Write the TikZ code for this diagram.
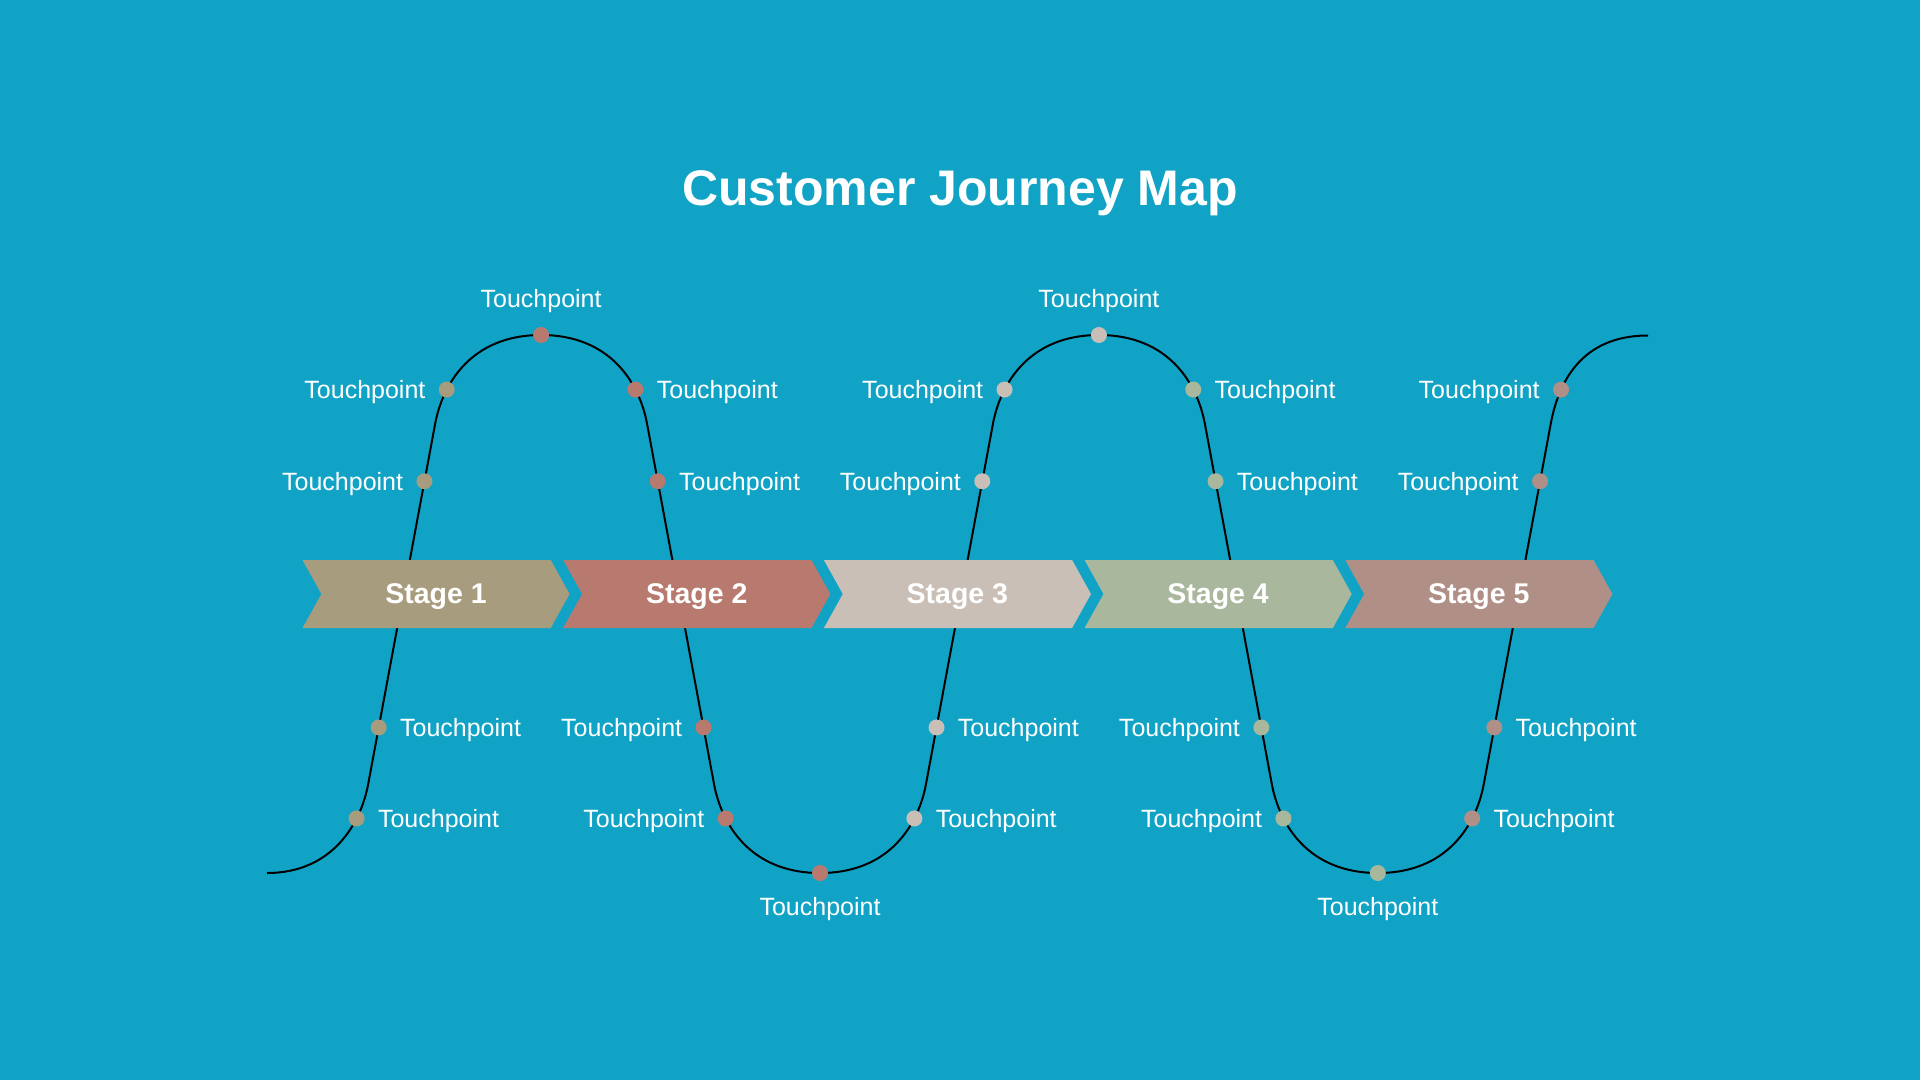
\documentclass[tikz,border=0pt]{standalone}
\usepackage{fontspec}
\setmainfont{Liberation Sans}
\usetikzlibrary{positioning}
\definecolor{bgc}{HTML}{11A3C6}
\definecolor{sa}{HTML}{A89C7E}
\definecolor{sb}{HTML}{B8796F}
\definecolor{sc}{HTML}{C9BFB6}
\definecolor{sd}{HTML}{A9B89C}
\definecolor{se}{HTML}{B09086}
\tikzset{
  wave/.style={draw=black, line width=2pt},
  tpdot/.style={circle, minimum size=16pt, inner sep=0pt, draw=none},
  lbl/.style={text=white, inner sep=0pt, text depth=0pt, font=\fontsize{25}{30}\selectfont},
  stagelbl/.style={text=white, inner sep=0pt, font=\bfseries\fontsize{28.5}{34}\selectfont},
  titlelbl/.style={text=white, inner sep=0pt, font=\bfseries\fontsize{50}{60}\selectfont}
}
\begin{document}
\begin{tikzpicture}[x=1pt, y=-1pt]
\useasboundingbox (0,0) rectangle (1920,1080);
\fill[bgc] (0,0) rectangle (1920,1080);

\node[titlelbl, anchor=base] (title) at (960,205) {Customer Journey Map};

% wave
\draw[wave]
 (267,873) .. controls (332,873) and (360.8,824) .. (368.2,784) coordinate[pos=0.72] (d1)
 -- (435.1,424) coordinate[pos=0.157] (d2) coordinate[pos=0.841] (d3)
 .. controls (442.5,384) and (471.1,335) .. (541.1,335) coordinate[pos=0.28] (d4) coordinate[pos=1] (d5)
 .. controls (611.1,335) and (639.7,384) .. (647.1,424) coordinate[pos=0.72] (d6)
 -- (714,784) coordinate[pos=0.159] (d7) coordinate[pos=0.843] (d8)
 .. controls (721.4,824) and (750,873) .. (820,873) coordinate[pos=0.28] (d9) coordinate[pos=1] (d10)
 .. controls (890,873) and (918.6,824) .. (926,784) coordinate[pos=0.72] (d11)
 -- (992.9,424) coordinate[pos=0.157] (d12) coordinate[pos=0.841] (d13)
 .. controls (1000.3,384) and (1028.9,335) .. (1098.9,335) coordinate[pos=0.28] (d14) coordinate[pos=1] (d15)
 .. controls (1168.9,335) and (1197.5,384) .. (1204.9,424) coordinate[pos=0.72] (d16)
 -- (1271.8,784) coordinate[pos=0.159] (d17) coordinate[pos=0.843] (d18)
 .. controls (1279.2,824) and (1307.8,873) .. (1377.8,873) coordinate[pos=0.28] (d19) coordinate[pos=1] (d20)
 .. controls (1447.8,873) and (1476.4,824) .. (1483.8,784) coordinate[pos=0.72] (d21)
 -- (1550.7,424) coordinate[pos=0.157] (d22) coordinate[pos=0.841] (d23)
 .. controls (1558.1,384) and (1580,335.5) .. (1648,335.5) coordinate[pos=0.28] (d24);

% stages
\foreach \x/\c/\lab [count=\i] in {302.5/sa/Stage 1, 563.2/sb/Stage 2, 823.9/sc/Stage 3, 1084.6/sd/Stage 4, 1345.3/se/Stage 5}{
  \fill[\c] (\x,560) -- ++(248.2,0) -- ++(18.9,34) -- ++(-18.9,34) -- ++(-248.2,0) -- ++(18.9,-34) -- cycle;
  \node[stagelbl, anchor=base] (stage\i) at (\x+133.5,603) {\lab};
}

% dots
\foreach \n/\c in {d1/sa,d2/sa,d3/sa,d4/sa,d5/sb,d6/sb,d7/sb,d8/sb,d9/sb,d10/sb,d11/sc,d12/sc,d13/sc,d14/sc,d15/sc,d16/sd,d17/sd,d18/sd,d19/sd,d20/sd,d21/se,d22/se,d23/se,d24/se}{
  \node[tpdot, fill=\c] (p\n) at (\n) {};
}

% labels
\foreach \n in {d1,d2,d6,d7,d11,d12,d16,d17,d21,d22}{
  \node[lbl, right=13pt of p\n] (t\n) {Touchpoint};
}
\foreach \n in {d3,d4,d8,d9,d13,d14,d18,d19,d23,d24}{
  \node[lbl, left=13pt of p\n] (t\n) {Touchpoint};
}
\foreach \n in {d5,d15}{
  \node[lbl, above=19pt of p\n] (t\n) {Touchpoint};
}
\foreach \n in {d10,d20}{
  \node[lbl, below=16pt of p\n] (t\n) {Touchpoint};
}
\end{tikzpicture}
\end{document}
